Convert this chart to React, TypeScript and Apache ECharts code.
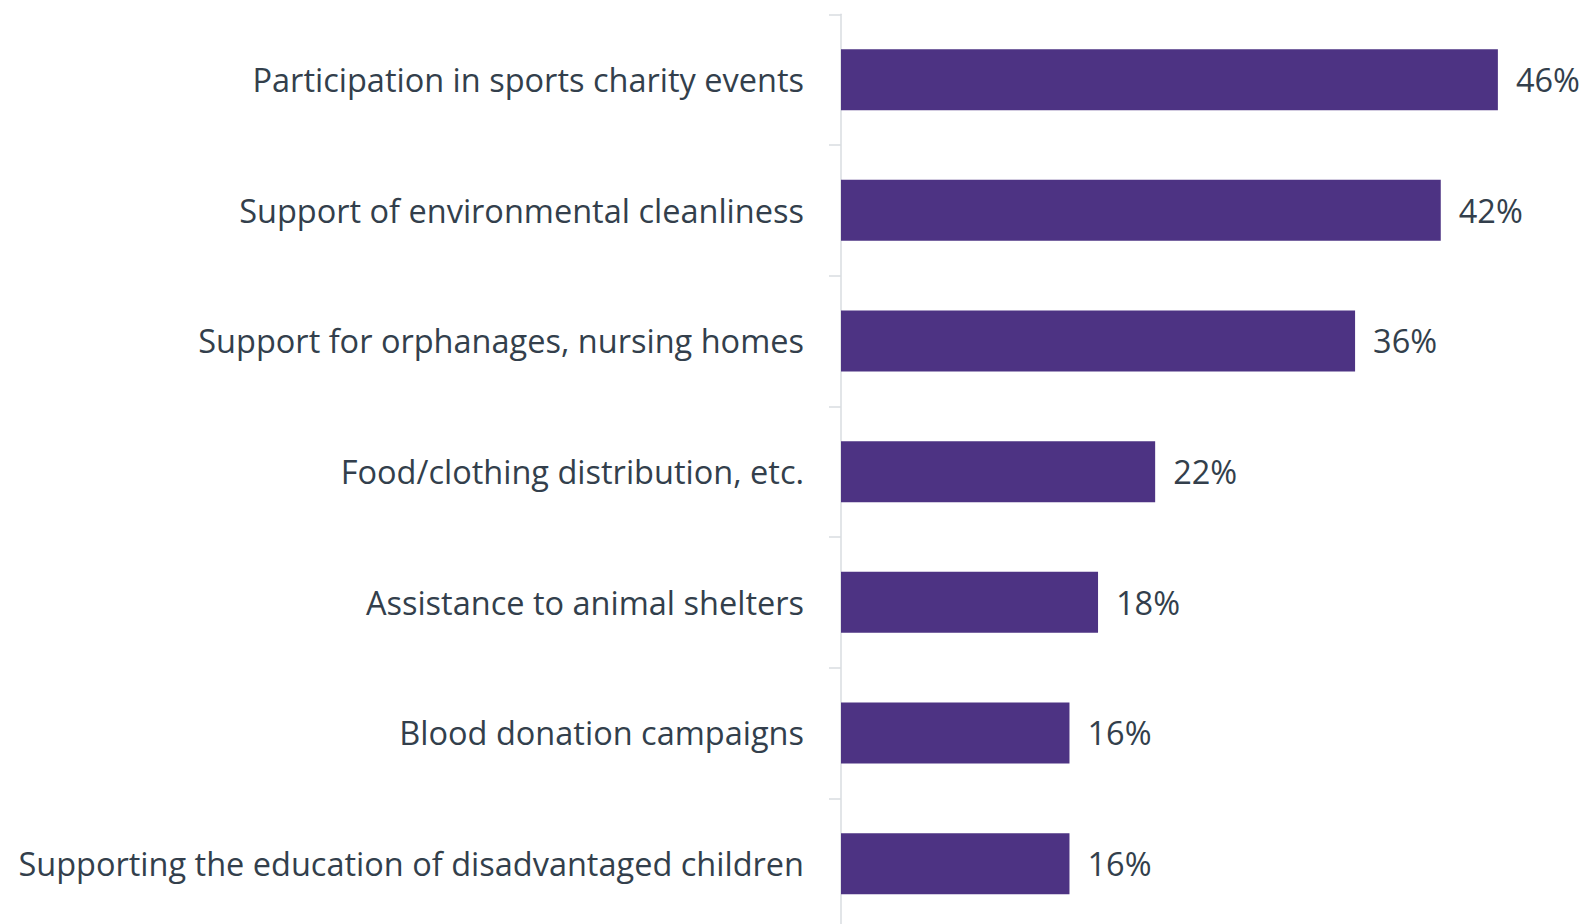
import React, { useEffect, useRef } from "react";
import * as echarts from "echarts";

const categories = [
  "Participation in sports charity events",
  "Support of environmental cleanliness",
  "Support for orphanages, nursing homes",
  "Food/clothing distribution, etc.",
  "Assistance to animal shelters",
  "Blood donation campaigns",
  "Supporting the education of disadvantaged children",
];
const values = [46, 42, 36, 22, 18, 16, 16];

export default function App() {
  const ref = useRef<HTMLDivElement>(null);
  useEffect(() => {
    if (!ref.current) return;
    const chart = echarts.init(ref.current, null, { renderer: "svg" });
    const textColor = "#333F4C";
    const font = "'Open Sans', sans-serif";
    chart.setOption({
      animation: false,
      backgroundColor: "#ffffff",
      grid: { left: 841, top: 14.3, width: 714, height: 914.7, containLabel: false },
      xAxis: {
        type: "value",
        min: 0,
        max: 50,
        show: false,
      },
      yAxis: {
        type: "category",
        data: categories,
        inverse: true,
        offset: 1.5,
        axisLine: { show: true, lineStyle: { color: "#D9DCE1", width: 1.5 } },
        axisTick: { show: true, length: 12, lineStyle: { color: "#D9DCE1", width: 1.5 } },
        axisLabel: {
          margin: 35.5,
          color: textColor,
          fontFamily: font,
          fontSize: 32.5,
        },
        splitLine: { show: false },
      },
      series: [
        {
          type: "bar",
          data: values,
          barWidth: 61,
          itemStyle: { color: "#4D3383" },
          label: {
            show: true,
            position: "right",
            distance: 18,
            formatter: "{c}%",
            color: textColor,
            fontFamily: font,
            fontSize: 32.5,
          },
        },
      ],
    });
    return () => chart.dispose();
  }, []);
  return (
    <div
      ref={ref}
      style={{ position: "fixed", left: 0, top: 0, width: 1589, height: 960 }}
    />
  );
}
